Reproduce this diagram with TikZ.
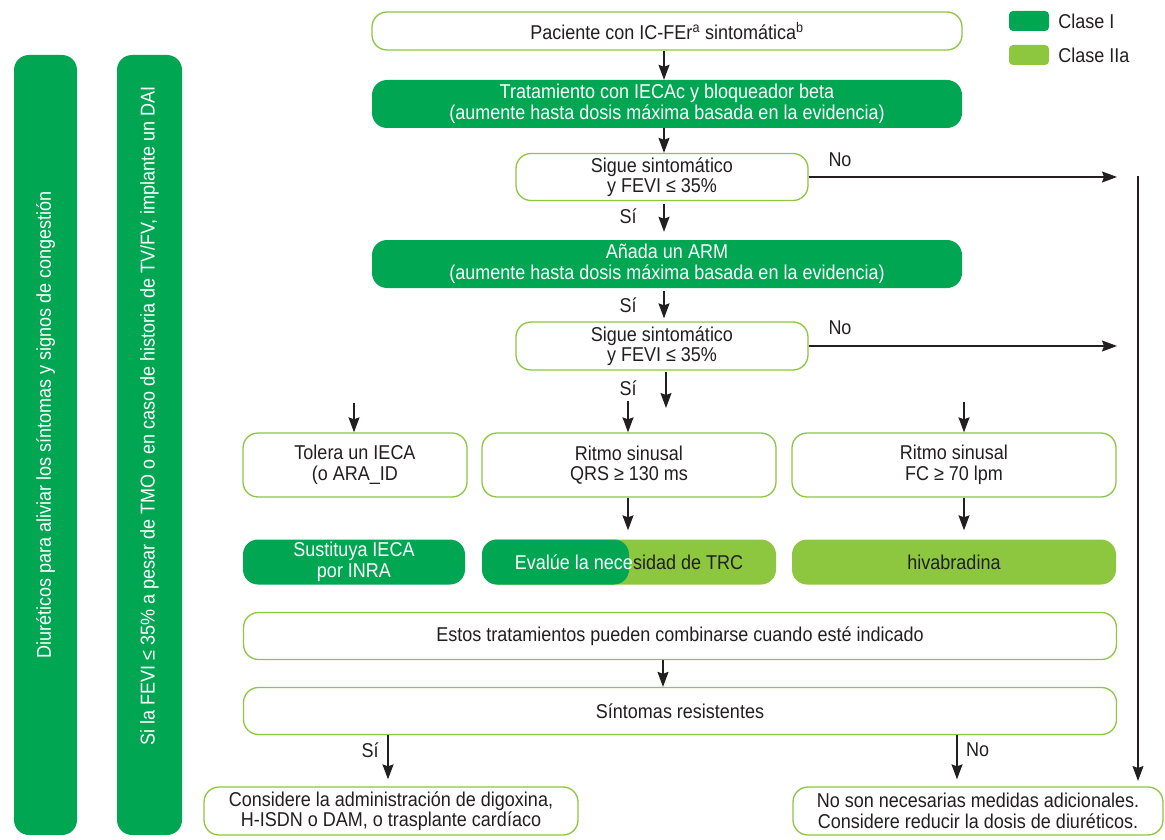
\documentclass[tikz,border=0pt]{standalone}
\usepackage{fontspec}
\setmainfont{Liberation Sans}[FakeStretch=0.9]
\usetikzlibrary{arrows.meta}
\definecolor{dgreen}{HTML}{00A651}
\definecolor{lgreen}{HTML}{8DC63F}
\definecolor{txt}{HTML}{231F20}
\begin{document}
\begin{tikzpicture}[x=1pt,y=-1pt,
  font=\fontsize{20}{20.5}\selectfont,
  wbox/.style={draw=lgreen, line width=1.3pt, fill=white, rounded corners=15pt, text=txt, align=center, inner sep=0pt},
  gbox/.style={fill=dgreen, rounded corners=15pt, text=white, align=center, inner sep=0pt},
  lbox/.style={fill=lgreen, rounded corners=15pt, text=txt, align=center, inner sep=0pt},
  arr/.style={-{Stealth[length=15pt,width=11pt,inset=2pt]}, line width=1.4pt, draw=txt},
  lbl/.style={text=txt, inner sep=0pt}]
\useasboundingbox (0,0) rectangle (1165,840);

% legend
\node[fill=dgreen, rounded corners=4pt, minimum width=40pt, minimum height=20pt, inner sep=0pt] (lg1) at (1029,21) {};
\node[lbl, anchor=west] (lt1) at ([xshift=9pt]lg1.east) {Clase I};
\node[fill=lgreen, rounded corners=4pt, minimum width=40pt, minimum height=20pt, inner sep=0pt] (lg2) at (1029,55) {};
\node[lbl, anchor=west] (lt2) at ([xshift=9pt]lg2.east) {Clase IIa};

% left bars
\node[gbox, minimum width=63pt, minimum height=780pt] (bar1) at (45.5,445) {};
\node[text=white, rotate=90, inner sep=0pt] (bt1) at (45.5,425) {Diuréticos para aliviar los síntomas y signos de congestión};
\node[gbox, minimum width=65pt, minimum height=780pt] (bar2) at (149.5,445) {};
\node[text=white, rotate=90, inner sep=0pt] (bt2) at (149.5,416) {Si la FEVI ≤ 35\% a pesar de TMO o en caso de historia de TV/FV, implante un DAI};

% main column
\node[wbox, minimum width=590pt, minimum height=38pt] (p1) at (667,31) {Paciente con IC-FEr\textsuperscript{a} sintomática\textsuperscript{b}};
\node[gbox, minimum width=590pt, minimum height=48pt] (t1) at (667,104) {Tratamiento con IECAc y bloqueador beta\\(aumente hasta dosis máxima basada en la evidencia)};
\node[wbox, minimum width=292pt, minimum height=47pt] (s1) at (662,177) {Sigue sintomático\\y FEVI ≤ 35\%};
\node[gbox, minimum width=590pt, minimum height=48pt] (a1) at (667,264) {Añada un ARM\\(aumente hasta dosis máxima basada en la evidencia)};
\node[wbox, minimum width=292pt, minimum height=48pt] (s2) at (662,346) {Sigue sintomático\\y FEVI ≤ 35\%};

\node[wbox, minimum width=224pt, minimum height=64pt] (r1) at (355,465) {Tolera un IECA\\(o ARA\_ID};
\node[wbox, minimum width=294pt, minimum height=64pt] (r2) at (629,465) {Ritmo sinusal\\QRS ≥ 130 ms};
\node[wbox, minimum width=324pt, minimum height=64pt] (r3) at (954,465) {Ritmo sinusal\\FC ≥ 70 lpm};

\node[gbox, minimum width=222pt, minimum height=45pt] (g1) at (354,562) {Sustituya IECA\\por INRA};
\node[lbox, minimum width=294pt, minimum height=45pt,
  path picture={\fill[dgreen] (path picture bounding box.south west) rectangle (path picture bounding box.north);}]
  (g2) at (629,562) {\textcolor{white}{Evalúe la nece}\textcolor{txt}{sidad de TRC}};
\node[lbox, minimum width=324pt, minimum height=45pt] (g3) at (954,562) {hivabradina};

\node[wbox, minimum width=873pt, minimum height=47pt] (c1) at (680,636) {Estos tratamientos pueden combinarse cuando esté indicado};
\node[wbox, minimum width=873pt, minimum height=47pt] (c2) at (680,711) {Síntomas resistentes};

\node[wbox, minimum width=374pt, minimum height=48pt] (b1) at (391,811) {Considere la administración de digoxina,\\H-ISDN o DAM, o trasplante cardíaco};
\node[wbox, minimum width=370pt, minimum height=48pt] (b2) at (978,811) {No son necesarias medidas adicionales.\\Considere reducir la dosis de diuréticos.};

% coordinates for free ends
\coordinate (no1) at (1117,177);
\coordinate (no2) at (1117,346);
\coordinate (vt) at (1138,176);
\coordinate (vb) at (1138,781);
\coordinate (ma) at (666,372);
\coordinate (mb) at (666,408);
\coordinate (la) at (354,403);
\coordinate (ra) at (964,402);
\coordinate (sa) at (628,401);
\coordinate (xn) at (957,0);
\coordinate (xs) at (388,0);
\coordinate (xc) at (663,0);
\coordinate (xa) at (664,0);

% connectors
\draw[arr] (p1.south -| xa) -- (t1.north -| xa);
\draw[arr] (t1.south -| xa) -- (s1.north -| xa);
\draw[arr, shorten >=8pt, shorten <=3pt] (s1.south -| xa) -- (a1.north -| xa);
\node[lbl] (si1) at (628,216) {Sí};
\draw[arr, shorten <=3pt, shorten >=3pt] (a1.south -| xa) -- (s2.north -| xa);
\node[lbl] (si2) at (628,305) {Sí};
\draw[arr] (s1.east) -- (no1);
\node[lbl] (nol1) at (840,160) {No};
\draw[arr] (s2.east) -- (no2);
\node[lbl] (nol2) at (840,328) {No};
\draw[arr] (vt) -- (vb);

\node[lbl] (si3) at (628,388) {Sí};
\draw[arr] (ma) -- (mb);
\draw[arr] (sa) -- (r2.north -| sa);
\draw[arr] (la) -- (r1.north -| la);
\draw[arr] (ra) -- (r3.north -| ra);

\draw[arr, shorten >=9pt] (r2.south -| sa) -- (g2.north -| sa);
\draw[arr, shorten >=9pt] (r3.south -| ra) -- (g3.north -| ra);

\draw[arr] (c1.south -| xc) -- (c2.north -| xc);
\draw[arr, shorten >=7pt] (c2.south -| xs) -- (b1.north -| xs);
\node[lbl] (si4) at (370,750) {Sí};
\draw[arr, shorten >=7pt] (c2.south -| xn) -- (b2.north -| xn);
\node[lbl, anchor=west] (nol3) at (966,750) {No};
\end{tikzpicture}
\end{document}
